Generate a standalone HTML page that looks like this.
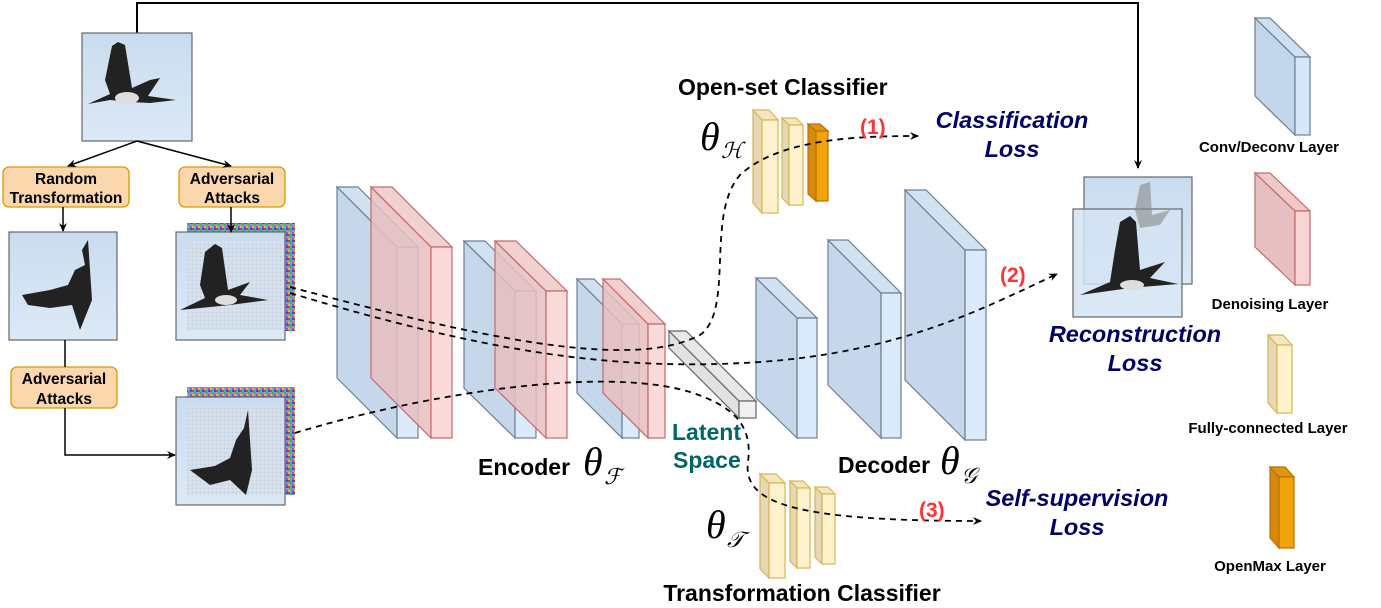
<!DOCTYPE html>
<html><head><meta charset="utf-8"><style>
html,body{margin:0;padding:0;background:#fff}
svg{display:block}
text{font-family:"Liberation Sans",Arial,sans-serif}
.b{font-weight:bold}
.bx{font-weight:bold;font-size:15.5px;fill:#000}
.loss{font-weight:bold;font-style:italic;font-size:23.5px;fill:#000066}
.lg{font-weight:bold;font-size:15px;fill:#000}
.th{font-family:"Liberation Serif","DejaVu Serif",serif;font-style:italic;font-size:40px}
.sub{font-family:"DejaVu Serif","Liberation Serif",serif;font-style:italic;font-size:22px}
.num{font-weight:bold;font-size:21px;fill:#ff3333}
</style></head><body>
<svg width="1381" height="608" viewBox="0 0 1381 608" xmlns="http://www.w3.org/2000/svg">
<defs>
<linearGradient id="sky" x1="0" y1="0" x2="0" y2="1"><stop offset="0" stop-color="#c9dcef"/><stop offset="1" stop-color="#dce9f6"/></linearGradient>
<pattern id="noise" width="6" height="6" patternUnits="userSpaceOnUse">
<rect width="6" height="6" fill="#7fa0c0"/><rect width="2" height="2" fill="#e03060"/><rect x="2" y="2" width="2" height="2" fill="#30c040"/><rect x="4" width="2" height="2" fill="#3050e0"/><rect x="0" y="4" width="2" height="2" fill="#e0c020"/><rect x="4" y="4" width="2" height="2" fill="#c040d0"/><rect x="2" y="0" width="2" height="2" fill="#20c0d0"/>
</pattern>
<pattern id="grain" width="4" height="4" patternUnits="userSpaceOnUse">
<rect width="4" height="4" fill="#d3dde8"/><rect width="1" height="1" fill="#b8c4d8"/><rect x="2" y="2" width="1" height="1" fill="#e8eef5"/>
</pattern>
<marker id="ar" markerWidth="10" markerHeight="10" refX="8" refY="5" orient="auto" markerUnits="userSpaceOnUse"><path d="M0,1 L9,5 L0,9 L3,5 z" fill="#000"/></marker>
</defs>

<path d="M137,33 V3 H1138 V168" fill="none" stroke="#000" stroke-width="2" marker-end="url(#ar)"/>
<g stroke="#666" stroke-width="1.2">
<rect x="82" y="33" width="110" height="108" fill="url(#sky)"/>
<rect x="9" y="232" width="108" height="108" fill="url(#sky)"/>
<rect x="187" y="223" width="108" height="108" fill="url(#noise)" stroke="none"/>
<rect x="176" y="232" width="109" height="108" fill="url(#sky)"/>
<rect x="187" y="241" width="96" height="89" fill="url(#grain)" stroke="none" opacity="0.8"/>
<rect x="187" y="387" width="108" height="108" fill="url(#noise)" stroke="none"/>
<rect x="176" y="397" width="109" height="108" fill="url(#sky)"/>
<rect x="187" y="406" width="96" height="89" fill="url(#grain)" stroke="none" opacity="0.8"/>
<rect x="1084" y="177" width="108" height="107" fill="url(#sky)"/>
<rect x="1073" y="209" width="109" height="108" fill="#d3e3f3" fill-opacity="0.85"/>
</g>
<g fill="#222">
<path d="M105,80 L112,46 L118,42 L125,45 L132,88 L150,80 L160,78 L148,96 L176,100 L150,103 L130,102 L110,100 L88,104 L110,94 z"/>
<ellipse cx="127" cy="98" rx="12" ry="6" fill="#ddd"/>
<path d="M22,295 L50,290 L68,285 L75,270 L85,265 L82,250 L88,240 L92,300 L84,320 L80,330 L72,305 L50,308 L28,305 z"/>
<path d="M200,285 L205,252 L215,244 L222,248 L228,290 L250,282 L240,295 L268,300 L230,305 L200,308 L180,310 L205,298 z"/>
<ellipse cx="226" cy="300" rx="11" ry="5" fill="#ddd"/>
<path d="M190,470 L215,466 L230,458 L236,440 L244,428 L248,410 L252,470 L246,495 L230,480 L210,485 z"/>
<path d="M1115,250 L1120,222 L1130,216 L1136,222 L1140,270 L1165,262 L1150,278 L1178,284 L1130,288 L1080,295 L1110,282 z"/>
<path d="M1135,210 L1140,185 L1150,182 L1152,215 L1170,210 L1160,225 L1140,228 z" fill="#888" opacity="0.6"/>
<ellipse cx="1132" cy="285" rx="12" ry="5" fill="#ddd"/>
</g>
<g fill="#fad7ac" stroke="#d79b00" stroke-width="1.3">
<rect x="3" y="167" width="126" height="40" rx="6"/>
<rect x="179" y="167" width="106" height="40" rx="6"/>
<rect x="11" y="367" width="106" height="41" rx="6"/>
</g>
<text class="bx" text-anchor="middle" x="66" y="184">Random</text>
<text class="bx" text-anchor="middle" x="66" y="203">Transformation</text>
<text class="bx" text-anchor="middle" x="232" y="184">Adversarial</text>
<text class="bx" text-anchor="middle" x="232" y="203">Attacks</text>
<text class="bx" text-anchor="middle" x="64" y="384">Adversarial</text>
<text class="bx" text-anchor="middle" x="64" y="404">Attacks</text>
<g fill="none" stroke="#000" stroke-width="1.5">
<path d="M137,141 L68,166" marker-end="url(#ar)"/>
<path d="M137,141 L231,166" marker-end="url(#ar)"/>
<path d="M63,207 V231" marker-end="url(#ar)"/>
<path d="M231,207 V232" marker-end="url(#ar)"/>
<path d="M65,340 V367"/>
<path d="M65,408 V455 H175" marker-end="url(#ar)"/>
</g>

<g stroke-width="1.2" fill-opacity="0.85">
<g stroke="#6c7f94"><polygon points="337,187 397,247 397,438 337,378" fill="#bcd0e8"/><polygon points="337,187 358,187 418,247 397,247" fill="#c9dcf0"/><rect x="397" y="247" width="21" height="191" fill="#d5e8fb"/></g>
<g stroke="#c46a6a"><polygon points="371,187 431,247 431,438 371,378" fill="#e8bebe"/><polygon points="371,187 392,187 452,247 431,247" fill="#efc8c8"/><rect x="431" y="247" width="21" height="191" fill="#fad4d4"/></g>
<g stroke="#6c7f94"><polygon points="464,241 515,291 515,438 464,388" fill="#bcd0e8"/><polygon points="464,241 485,241 536,291 515,291" fill="#c9dcf0"/><rect x="515" y="291" width="21" height="147" fill="#d5e8fb"/></g>
<g stroke="#c46a6a"><polygon points="495,241 546,291 546,438 495,388" fill="#e8bebe"/><polygon points="495,241 516,241 567,291 546,291" fill="#efc8c8"/><rect x="546" y="291" width="21" height="147" fill="#fad4d4"/></g>
<g stroke="#6c7f94"><polygon points="577,279 622,324 622,438 577,393" fill="#bcd0e8"/><polygon points="577,279 594,279 639,324 622,324" fill="#c9dcf0"/><rect x="622" y="324" width="17" height="114" fill="#d5e8fb"/></g>
<g stroke="#c46a6a"><polygon points="603,279 648,324 648,438 603,393" fill="#e8bebe"/><polygon points="603,279 620,279 665,324 648,324" fill="#efc8c8"/><rect x="648" y="324" width="17" height="114" fill="#fad4d4"/></g>
<g stroke="#666"><polygon points="669,331 739,401 739,418 669,348" fill="#dcdcdc"/><polygon points="669,331 686,331 756,401 739,401" fill="#e4e4e4"/><rect x="739" y="401" width="17" height="17" fill="#efefef"/></g>
<g stroke="#6c7f94"><polygon points="756,278 797,318 797,438 756,398" fill="#bcd0e8"/><polygon points="756,278 776,278 817,318 797,318" fill="#c9dcf0"/><rect x="797" y="318" width="20" height="120" fill="#d5e8fb"/></g>
<g stroke="#6c7f94"><polygon points="828,240 881,293 881,438 828,385" fill="#bcd0e8"/><polygon points="828,240 848,240 901,293 881,293" fill="#c9dcf0"/><rect x="881" y="293" width="20" height="145" fill="#d5e8fb"/></g>
<g stroke="#6c7f94"><polygon points="905,190 965,250 965,440 905,380" fill="#bcd0e8"/><polygon points="905,190 926,190 986,250 965,250" fill="#c9dcf0"/><rect x="965" y="250" width="21" height="190" fill="#d5e8fb"/></g>
</g>
<g stroke-width="1.2">
<g stroke="#d6b656"><polygon points="753,110 762,120 762,213 753,203" fill="#e6d8b4"/><polygon points="753,110 769,110 778,120 762,120" fill="#f3e6c0"/><rect x="762" y="120" width="16" height="93" fill="#fff2cc"/></g>
<g stroke="#d6b656"><polygon points="782,118 789,125 789,205 782,198" fill="#e6d8b4"/><polygon points="782,118 796,118 803,125 789,125" fill="#f3e6c0"/><rect x="789" y="125" width="14" height="80" fill="#fff2cc"/></g>
<g stroke="#bd7000"><polygon points="808,124 816,131 816,201 808,194" fill="#d68a0a"/><polygon points="808,124 820,124 828,131 816,131" fill="#e09510"/><rect x="816" y="131" width="12" height="70" fill="#f0a30a"/></g>
<g stroke="#d6b656"><polygon points="760,474 769,483 769,578 760,569" fill="#e6d8b4"/><polygon points="760,474 776,474 785,483 769,483" fill="#f3e6c0"/><rect x="769" y="483" width="16" height="95" fill="#fff2cc"/></g>
<g stroke="#d6b656"><polygon points="790,481 797,488 797,568 790,561" fill="#e6d8b4"/><polygon points="790,481 803,481 810,488 797,488" fill="#f3e6c0"/><rect x="797" y="488" width="13" height="80" fill="#fff2cc"/></g>
<g stroke="#d6b656"><polygon points="815,487 822,494 822,564 815,557" fill="#e6d8b4"/><polygon points="815,487 828,487 835,494 822,494" fill="#f3e6c0"/><rect x="822" y="494" width="13" height="70" fill="#fff2cc"/></g>
<g stroke="#6c7f94"><polygon points="1255,18 1295,57 1295,135 1255,96" fill="#c3d5ea"/><polygon points="1255,18 1270,18 1310,57 1295,57" fill="#cddff2"/><rect x="1295" y="57" width="15" height="78" fill="#d5e8fb"/></g>
<g stroke="#c46a6a"><polygon points="1255,173 1295,211 1295,285 1255,247" fill="#e6c0c0"/><polygon points="1255,173 1270,173 1310,211 1295,211" fill="#efc8c8"/><rect x="1295" y="211" width="15" height="74" fill="#f8d4d4"/></g>
<g stroke="#d6b656"><polygon points="1268,335 1277,345 1277,413 1268,403" fill="#e6d8b4"/><polygon points="1268,335 1283,335 1292,345 1277,345" fill="#f3e6c0"/><rect x="1277" y="345" width="15" height="68" fill="#fff2cc"/></g>
<g stroke="#bd7000"><polygon points="1270,467 1279,477 1279,548 1270,538" fill="#d68a0a"/><polygon points="1270,467 1285,467 1294,477 1279,477" fill="#e09510"/><rect x="1279" y="477" width="15" height="71" fill="#f0a30a"/></g>
</g>

<g fill="none" stroke="#000" stroke-width="1.8" stroke-dasharray="6,5">
<path d="M290,287 C470,335 630,372 700,335 C735,310 705,215 740,175 C780,138 860,136 918,136" marker-end="url(#ar)"/>
<path d="M290,293 C480,350 610,372 760,362 C900,352 980,310 1057,274" marker-end="url(#ar)"/>
<path d="M295,433 C420,395 600,365 690,392 C740,408 752,430 748,462 C742,505 800,521 981,521" marker-end="url(#ar)"/>
</g>

<text class="b" x="678" y="95" font-size="23">Open-set Classifier</text>
<text class="th" x="700" y="150">θ</text><text class="sub" x="721" y="158">ℋ</text>
<text class="num" x="860" y="134">(1)</text>
<text class="loss" text-anchor="middle" x="1012" y="128">Classification</text>
<text class="loss" text-anchor="middle" x="1012" y="157">Loss</text>
<text class="num" x="1000" y="282">(2)</text>
<text class="loss" text-anchor="middle" x="1135" y="342">Reconstruction</text>
<text class="loss" text-anchor="middle" x="1135" y="371">Loss</text>
<text class="b" x="478" y="475" font-size="23">Encoder</text>
<text class="th" x="583" y="475">θ</text><text class="sub" x="604" y="484">ℱ</text>
<text class="b" x="672" y="440" font-size="23" fill="#006666">Latent</text>
<text class="b" x="673" y="468" font-size="23" fill="#006666">Space</text>
<text class="b" x="838" y="473" font-size="23">Decoder</text>
<text class="th" x="940" y="474">θ</text><text class="sub" x="961" y="483">𝒢</text>
<text class="th" x="706" y="538">θ</text><text class="sub" x="727" y="547">𝒯</text>
<text class="num" x="919" y="517">(3)</text>
<text class="loss" text-anchor="middle" x="1077" y="506">Self-supervision</text>
<text class="loss" text-anchor="middle" x="1077" y="535">Loss</text>
<text class="b" text-anchor="middle" x="802" y="601" font-size="23">Transformation Classifier</text>
<text class="lg" text-anchor="middle" x="1269" y="152">Conv/Deconv Layer</text>
<text class="lg" text-anchor="middle" x="1270" y="309">Denoising Layer</text>
<text class="lg" text-anchor="middle" x="1268" y="433">Fully-connected Layer</text>
<text class="lg" text-anchor="middle" x="1270" y="571">OpenMax Layer</text>
</svg>
</body></html>
